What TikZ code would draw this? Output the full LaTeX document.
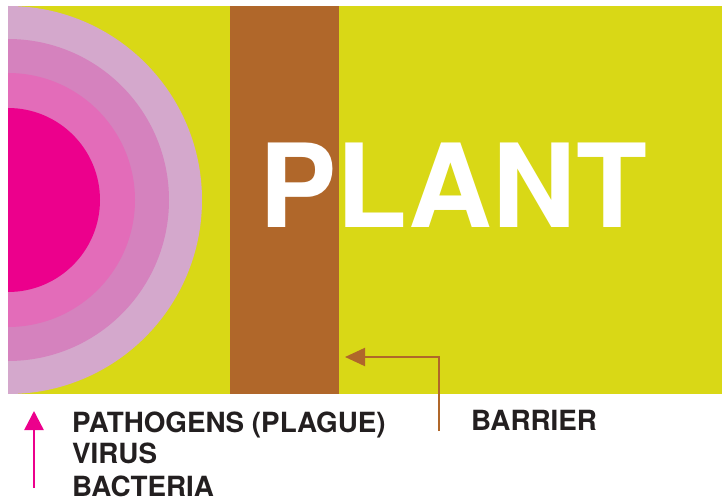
\documentclass[tikz,border=0pt]{standalone}
\usepackage{fontspec}
\setmainfont{TeX Gyre Heros}
\usetikzlibrary{arrows.meta,positioning,calc}

\definecolor{plantyellow}{HTML}{D9D816}
\definecolor{barrierbrown}{HTML}{B0672A}
\definecolor{ringA}{HTML}{D4A8CC}
\definecolor{ringB}{HTML}{D582BE}
\definecolor{ringC}{HTML}{E36CB9}
\definecolor{ringD}{HTML}{EC008C}
\definecolor{labeltext}{HTML}{231F20}

\begin{document}
\begin{tikzpicture}[
    x=1pt, y=-1pt,
    lbl/.style={anchor=base west, inner sep=0pt, font=\fontsize{27.8}{32}\selectfont\bfseries, text=labeltext},
    pinkarr/.style={-{Triangle[length=19pt,width=19pt]}, line width=2.5pt, draw=ringD},
    brownarr/.style={-{Triangle[length=20pt,width=18pt]}, line width=2pt, draw=barrierbrown}
]
\useasboundingbox (0,0) rectangle (722,502);

% plant field
\fill[plantyellow] (8,6) rectangle (722,394);

% pathogen rings
\begin{scope}
  \clip (8,6) rectangle (722,394);
  \fill[ringA] (8,200) circle (194);
  \fill[ringB] (8,200) circle (161);
  \fill[ringC] (8,200) circle (127);
  \fill[ringD] (8,200) circle (92);
\end{scope}

% barrier
\fill[barrierbrown] (230,6) rectangle (339,394);

\node[anchor=base west, inner sep=0pt, text=white, font=\fontsize{116}{116}\selectfont\bfseries] (plant) at (259,228) {PLANT};

% labels
\node[lbl] (patho) at (72,432) {PATHOGENS (PLAGUE)};
\node[lbl] (virus) at (72,463) {VIRUS};
\node[lbl] (bact) at (72,496) {BACTERIA};
\node[lbl] (barrier) at (471,430) {BARRIER};

\coordinate (pinkstart) at (34,488);
\coordinate (pinkend) at (34,411);
\coordinate (brownstart) at (439,431);
\coordinate (brownend) at (345,357);

\draw[pinkarr] (pinkstart) -- (pinkend);
\draw[brownarr] (brownstart) |- (brownend);
\end{tikzpicture}
\end{document}
